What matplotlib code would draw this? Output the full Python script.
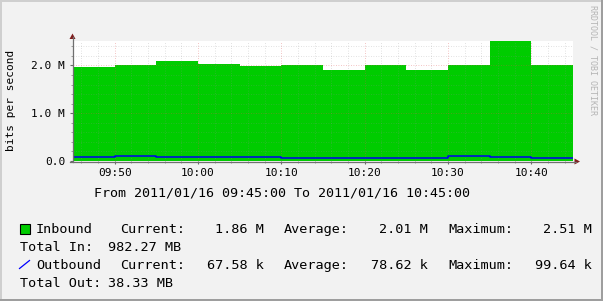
import matplotlib
matplotlib.use("Agg")
import matplotlib.pyplot as plt
from matplotlib.patches import Rectangle, Polygon
from matplotlib.lines import Line2D
from matplotlib.ticker import FixedLocator, FixedFormatter

# ---------------- data ----------------
interval_start = ['09:45', '09:50', '09:55', '10:00', '10:05', '10:10',
                  '10:15', '10:20', '10:25', '10:30', '10:35', '10:40']
period_end = '10:45'
inbound_bps = [1.96e6, 2.01e6, 2.09e6, 2.03e6, 1.99e6, 2.01e6,
               1.91e6, 2.01e6, 1.91e6, 2.01e6, 2.51e6, 2.01e6]
outbound_bps = [86e3, 99.6e3, 81e3, 81e3, 81e3, 67.6e3,
                67.6e3, 67.6e3, 67.6e3, 99.6e3, 86e3, 67.6e3]
x_tick_labels = ['09:50', '10:00', '10:10', '10:20', '10:30', '10:40']
y_tick_values = [0.0, 1.0e6, 2.0e6]
y_tick_labels = ['0.0', '1.0 M', '2.0 M']
title_text = 'From 2011/01/16 09:45:00 To 2011/01/16 10:45:00'
y_label = 'bits per second'
inbound_stats = ['1.86 M', '2.01 M', '2.51 M']
outbound_stats = ['67.58 k', '78.62 k', '99.64 k']
total_in = '982.27 MB'
total_out = '38.33 MB'
watermark = 'RRDTOOL / TOBI OETIKER'


def to_min(s):
    h, m = s.split(':')
    return int(h) * 60 + int(m)


edges = [to_min(s) for s in interval_start] + [to_min(period_end)]

# ---------------- figure ----------------
W, H = 603, 301
plt.rcParams['font.family'] = ['DejaVu Sans Mono']
fig = plt.figure(figsize=(W / 100, H / 100), dpi=100, facecolor='#F2F2F2')


def fx(px):
    return px / W


def fy(py):
    return 1 - py / H


# border shading
fig.add_artist(Rectangle((0, fy(2)), 1, 2 / H, transform=fig.transFigure,
                         color='#CFCFCF', lw=0))
fig.add_artist(Rectangle((0, 0), 2 / W, 1, transform=fig.transFigure,
                         color='#CFCFCF', lw=0))
fig.add_artist(Rectangle((0, 0), 1, 2 / H, transform=fig.transFigure,
                         color='#9E9E9E', lw=0))
fig.add_artist(Rectangle((1 - 2 / W, 0), 2 / W, 1, transform=fig.transFigure,
                         color='#9E9E9E', lw=0))

ax = fig.add_axes([fx(73), fy(161), 500 / W, 120 / H])
ax.set_facecolor('#FFFFFF')
ax.fill_between(edges, list(inbound_bps) + [inbound_bps[-1]], 0, step='post',
                facecolor='#00CC00', edgecolor='none', lw=0, antialiased=False,
                zorder=1)
ax.step(edges, list(outbound_bps) + [outbound_bps[-1]], where='post',
        color='#0000EE', lw=1.1, zorder=3)

ax.set_xlim(edges[0], edges[-1])
ax.set_ylim(0, max(inbound_bps))

major_x = [to_min(s) for s in x_tick_labels]
minor_x = list(range(edges[0] + 1, edges[-1], 2))
ax.xaxis.set_major_locator(FixedLocator(major_x))
ax.xaxis.set_major_formatter(FixedFormatter(x_tick_labels))
ax.xaxis.set_minor_locator(FixedLocator(minor_x))
ax.yaxis.set_major_locator(FixedLocator(y_tick_values))
ax.yaxis.set_major_formatter(FixedFormatter(y_tick_labels))
ax.yaxis.set_minor_locator(FixedLocator([i * 0.2e6 for i in range(1, 13)]))

ax.set_axisbelow(False)
ax.grid(which='minor', color='#8F8F8F', alpha=0.35, lw=0.6, ls=(0, (1, 2)))
ax.grid(which='major', color='#DE5050', alpha=0.45, lw=0.6, ls=(0, (1, 2)))

for s in ['top', 'right', 'left', 'bottom']:
    ax.spines[s].set_visible(False)

ax.tick_params(axis='both', which='major', length=2.5, width=0.8,
               color='#6A6A6A', labelsize=8, labelcolor='#000000')
ax.tick_params(axis='both', which='minor', length=1.5, width=0.6,
               color='#8F8F8F')
ax.tick_params(axis='y', which='major', pad=3.2)
ax.tick_params(axis='x', which='major', pad=2.5)

# axis lines and arrows
arrow_c = '#801F1F'
fig.add_artist(Line2D([fx(72.5), fx(72.5)], [fy(161.5), fy(37)], transform=fig.transFigure,
                      color='#707070', lw=0.9))
fig.add_artist(Line2D([fx(70), fx(576)], [fy(161.5), fy(161.5)], transform=fig.transFigure,
                      color='#707070', lw=0.9))
fig.add_artist(Polygon([[fx(69.5), fy(39)], [fx(75.5), fy(39)], [fx(72.5), fy(33.5)]],
                       closed=True, transform=fig.transFigure, color=arrow_c, lw=0))
fig.add_artist(Polygon([[fx(574.5), fy(158.5)], [fx(574.5), fy(164.5)], [fx(580), fy(161.5)]],
                       closed=True, transform=fig.transFigure, color=arrow_c, lw=0))

# labels
fig.text(fx(11), fy(100), y_label, rotation=90, ha='center', va='center', fontsize=8)
fig.text(fx(282), fy(197), title_text, ha='center', va='baseline', fontsize=9.6)
fig.text(fx(593), fy(60), watermark, rotation=-90, ha='center', va='center',
         fontsize=6.0, color='#B5B5B5')

# legend
lf = 9.7
rows = [233.3, 250.7, 269.0, 286.7]
fig.add_artist(Rectangle((fx(20), fy(233.5)), 9.5 / W, 9.5 / H, transform=fig.transFigure,
                         facecolor='#00CC00', edgecolor='#000000', lw=0.8))
fig.add_artist(Line2D([fx(19.5), fx(29.5)], [fy(268.5), fy(260.5)], transform=fig.transFigure,
                      color='#0000FF', lw=0.9))

for row_y, name, stats in [(rows[0], 'Inbound', inbound_stats),
                           (rows[2], 'Outbound', outbound_stats)]:
    fig.text(fx(36), fy(row_y), name, ha='left', va='baseline', fontsize=lf)
    for lab, lx, val, rx in zip(['Current:', 'Average:', 'Maximum:'],
                                [120, 284, 448], stats, [264, 428, 592]):
        fig.text(fx(lx), fy(row_y), lab, ha='left', va='baseline', fontsize=lf)
        fig.text(fx(rx), fy(row_y), val, ha='right', va='baseline', fontsize=lf)

fig.text(fx(20), fy(rows[1]), 'Total In:', ha='left', va='baseline', fontsize=lf)
fig.text(fx(108), fy(rows[1]), total_in, ha='left', va='baseline', fontsize=lf)
fig.text(fx(20), fy(rows[3]), 'Total Out:', ha='left', va='baseline', fontsize=lf)
fig.text(fx(108), fy(rows[3]), total_out, ha='left', va='baseline', fontsize=lf)

fig.savefig('out.png', dpi=100, facecolor=fig.get_facecolor())
